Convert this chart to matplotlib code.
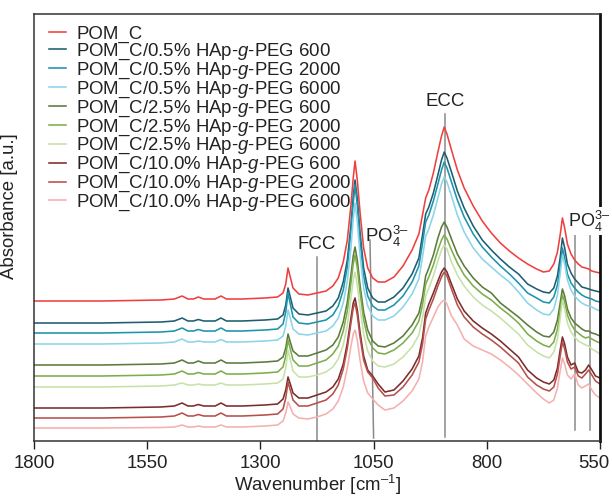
import numpy as np
import matplotlib
matplotlib.use("Agg")
import matplotlib.pyplot as plt
from matplotlib.transforms import ScaledTranslation

plt.rcParams['font.family'] = ['Liberation Sans', 'DejaVu Sans']
plt.rcParams['mathtext.fontset'] = 'custom'
plt.rcParams['mathtext.rm'] = 'Liberation Sans'
plt.rcParams['mathtext.it'] = 'Liberation Sans:italic'
plt.rcParams['mathtext.bf'] = 'Liberation Sans:bold'

# ---------------- data ----------------
wavenumber = [1800, 1650, 1520, 1490, 1473, 1460, 1448, 1437, 1425, 1400, 1387, 1375, 1340, 1290,
              1262, 1250, 1244, 1239, 1234, 1228, 1215, 1195, 1175, 1155, 1140, 1128, 1117, 1108,
              1100, 1095, 1091, 1086, 1080, 1072, 1063, 1052, 1040, 1025, 1005, 985, 965, 950,
              942, 935, 928, 918, 908, 900, 894, 888, 878, 865, 850, 830, 810, 790, 770, 750,
              730, 710, 690, 675, 662, 652, 644, 638, 633, 628, 622, 614, 606, 598, 590, 582,
              575, 568, 560, 550]

# readings are depths below the top reference level (a.u. x100); converted below
pom_c = [301, 301, 300, 299, 296, 299, 299, 297, 299, 299, 296, 299, 299, 298,
         297, 293, 284, 268, 277, 288, 294, 295, 293, 291, 286, 278, 262, 240,
         205, 178, 161, 180, 212, 248, 268, 278, 282, 282, 277, 266, 250, 234,
         215, 198, 190, 173, 152, 136, 127, 134, 150, 170, 188, 206, 221, 233, 243, 251,
         258, 264, 269, 272, 271, 264, 252, 235, 218, 228, 244, 254, 260, 264, 267, 268,
         269, 271, 272, 273]
peg600_05 = [323, 323, 322, 321, 318, 321, 321, 319.5, 321, 321, 318, 321, 321, 320,
             319, 315, 305, 288, 297, 308, 314, 315, 313, 311, 306, 298, 282, 260,
             225, 197, 180, 199, 232, 268, 288, 298, 302, 302, 297, 288, 274, 258,
             235, 214, 207, 193, 175, 160, 152, 158, 172, 191, 208, 226, 240, 250, 259, 267,
             274, 284, 289, 292, 293, 288, 276, 258, 238, 248, 264, 273, 279, 283, 287, 288,
             289, 290, 291, 292]
peg2000_05 = [333, 333, 332, 331, 328, 331, 331, 329.5, 331, 331, 328, 331, 331, 330,
              329, 324, 312, 293, 304, 317, 323, 324, 322, 320, 315, 306, 290, 267,
              231, 203, 185, 205, 240, 276, 296, 306, 310, 310, 305, 296, 282, 266,
              243, 222, 215, 201, 184, 170, 162, 168, 182, 200, 217, 234, 247, 257, 266, 274,
              283, 293, 298, 302, 303, 297, 285, 267, 248, 258, 274, 283, 288, 292, 295, 297,
              298, 299, 301, 302]
peg6000_05 = [344, 344, 343, 342, 339, 342, 342, 341, 342, 342, 339.5, 342, 342, 341,
              340, 336, 326, 310, 318, 329, 334, 335, 333, 331, 326, 318, 303, 281,
              248, 219, 203, 222, 255, 288, 306, 316, 320, 320, 316, 307, 294, 279,
              257, 236, 229, 215, 198, 184, 177, 182, 196, 215, 232, 248, 259, 267, 275, 282,
              292, 303, 310, 314, 315, 309, 295, 274, 255, 264, 280, 290, 296, 300, 303, 305,
              306, 307, 309, 311]
peg600_25 = [365, 365, 364, 363, 360, 363, 363, 361, 363, 363, 360, 363, 363, 362,
             361, 357, 348, 334, 342, 351, 356, 356, 353, 350, 345, 337, 322, 302,
             275, 256, 247, 260, 285, 312, 330, 341, 346, 347, 343, 336, 325, 313,
             297, 276, 268, 255, 238, 227, 222, 227, 239, 254, 266, 278, 287, 293, 303, 310,
             317, 325, 332, 336, 337, 332, 320, 303, 289, 296, 309, 318, 323, 326, 329, 331,
             331, 333, 334, 336]
peg2000_25 = [376, 376, 375, 374, 371, 374, 374, 372.5, 374, 374, 371, 374, 374, 373,
              372, 367, 356, 340, 349, 360, 366, 366, 363, 360, 354, 346, 331, 311,
              283, 264, 255, 268, 292, 320, 338, 348, 353, 354, 350, 343, 333, 321,
              305, 284, 277, 265, 250, 240, 235, 239, 250, 263, 275, 286, 294, 300, 308, 315,
              323, 334, 341, 345, 347, 342, 329, 311, 295, 302, 315, 324, 330, 333, 336, 338,
              337, 339, 341, 343]
peg6000_25 = [387, 387, 386, 385, 383, 385, 385, 384, 385, 385, 383, 385, 385, 384,
              383, 379, 368, 350, 360, 371, 377, 377, 375, 372, 367, 359, 345, 325,
              298, 280, 272, 285, 308, 334, 351, 361, 366, 367, 364, 357, 347, 335,
              318, 296, 288, 276, 261, 250, 245, 249, 262, 275, 286, 297, 305, 311, 318, 326,
              334, 345, 352, 356, 358, 352, 339, 319, 300, 309, 323, 332, 337, 341, 343, 345,
              346, 349, 351, 354]
peg600_10 = [408, 408, 407, 406, 403, 406, 406, 404.5, 406, 406, 403, 406, 406, 405,
             404, 399, 390, 377, 384, 393, 398, 398, 395, 392, 387, 379, 364, 343,
             318, 303, 298, 310, 332, 356, 370, 376, 384, 392, 390, 381, 369, 356,
             338, 313, 304, 293, 281, 272, 268, 272, 284, 299, 311, 321, 328, 334, 341, 349,
             357, 370, 378, 382, 384, 380, 368, 350, 337, 344, 357, 365, 363, 372, 373, 370,
             365, 370, 376, 378]
peg2000_10 = [418, 418, 417, 416, 413, 416, 416, 414.5, 416, 416, 413, 416, 416, 415,
              414, 409, 398, 382, 390, 400, 406, 406, 403, 400, 394, 385, 369, 348,
              323, 308, 303, 315, 337, 360, 372, 378, 388, 396, 395, 387, 375, 362,
              344, 319, 310, 299, 286, 277, 272, 276, 289, 305, 317, 327, 334, 340, 347, 355,
              363, 377, 385, 389, 391, 387, 374, 356, 342, 349, 362, 369, 367, 376, 378, 374,
              370, 375, 381, 384]
peg6000_10 = [428, 428, 427.5, 427, 425, 427, 427, 426, 427, 427, 425, 427, 427, 426,
              425, 421, 413, 402, 407, 414, 418, 419, 417, 414, 409, 401, 387, 368,
              346, 334, 330, 340, 360, 381, 393, 399, 405, 410, 408, 401, 391, 379,
              362, 336, 327, 317, 307, 302, 300, 304, 316, 325, 339, 346, 350, 354, 360, 367,
              375, 384, 393, 399, 403, 400, 388, 371, 358, 364, 375, 379, 374, 385, 388, 386,
              384, 390, 395, 398]

series = [pom_c, peg600_05, peg2000_05, peg6000_05, peg600_25, peg2000_25, peg6000_25,
          peg600_10, peg2000_10, peg6000_10]
labels = ["POM_C",
          "POM_C/0.5% HAp-$\\it{g}$-PEG 600",
          "POM_C/0.5% HAp-$\\it{g}$-PEG 2000",
          "POM_C/0.5% HAp-$\\it{g}$-PEG 6000",
          "POM_C/2.5% HAp-$\\it{g}$-PEG 600",
          "POM_C/2.5% HAp-$\\it{g}$-PEG 2000",
          "POM_C/2.5% HAp-$\\it{g}$-PEG 6000",
          "POM_C/10.0% HAp-$\\it{g}$-PEG 600",
          "POM_C/10.0% HAp-$\\it{g}$-PEG 2000",
          "POM_C/10.0% HAp-$\\it{g}$-PEG 6000"]
colors = ["#EF4040", "#1E5E70", "#1E93AC", "#8CD4E8", "#5B7B3C", "#7DAE4A", "#C6E2A8",
          "#7B2C2C", "#B5504B", "#F4B0B0"]

marker_text = ["FCC", "PO$_4^{3\u2013}$", "ECC", "PO$_4^{3\u2013}$"]
xticks = [1800, 1550, 1300, 1050, 800, 550]

REF = 441.0  # reference level of readings


def to_au(v):
    return (REF - np.asarray(v, dtype=float)) / 100.0


# ---------------- figure ----------------
W, H = 612, 497
fig = plt.figure(figsize=(W / 100, H / 100), dpi=100)
ax = fig.add_axes([34 / W, (H - 441) / H, 566 / W, 427 / H])

for y, lab, c in zip(series, labels, colors):
    ax.plot(wavenumber, to_au(y), color=c, lw=1.15, label=lab, solid_joinstyle='round')

ax.set_xlim(1800, 550)
ax.set_ylim(0, 4.27)

gray = "#8a8a8a"
ax.plot([1175, 1175], [0.0, to_au(257)], color=gray, lw=1.1, zorder=0.5)
ax.plot([1050, 1058], [0.03, to_au(240)], color=gray, lw=1.1, zorder=0.5)
ax.plot([893, 893], [0.04, to_au(114)], color=gray, lw=1.1, zorder=0.5)
ax.plot([606, 606], [0.11, to_au(235)], color=gray, lw=1.1, zorder=0.5)
ax.plot([573, 573], [0.11, to_au(235)], color=gray, lw=1.1, zorder=0.5)

fs = 13.4
ax.text(1175, to_au(244), marker_text[0], ha='center', va='center', fontsize=fs, color='#222')
ax.text(1068, to_au(236), marker_text[1], ha='left', va='center', fontsize=fs, color='#222')
ax.text(893, to_au(101), marker_text[2], ha='center', va='center', fontsize=fs, color='#222')
ax.text(621, to_au(221), marker_text[3], ha='left', va='center', fontsize=fs - 0.4, color='#222',
        bbox=dict(facecolor='white', edgecolor='none', pad=0.8), zorder=10, clip_on=False)

ax.set_xticks(xticks)
ax.set_xticklabels([str(t) for t in xticks], fontsize=fs, color='#222')
ax.set_yticks([])
ax.tick_params(axis='x', direction='out', length=6, width=1.0, pad=4, color='#222')
# the last tick label sits slightly left of its tick, inside the figure
last = ax.get_xticklabels()[-1]
last.set_transform(last.get_transform() + ScaledTranslation(-6 / 100, 0, fig.dpi_scale_trans))

for s in ['left', 'top', 'bottom']:
    ax.spines[s].set_linewidth(1.1)
    ax.spines[s].set_color('#333333')
ax.spines['right'].set_linewidth(2.0)
ax.spines['right'].set_color('#111111')

ax.set_xlabel("Wavenumber [cm$^{\u2013 1}$]", fontsize=fs, color='#222', labelpad=1)
ax.set_ylabel("Absorbance [a.u.]", fontsize=fs, color='#222')
ax.yaxis.set_label_coords(-0.028, 0.55)

leg = ax.legend(loc='upper left', bbox_to_anchor=(0.027, 0.972), frameon=False, fontsize=fs,
                handlelength=0.9, handletextpad=0.55, labelspacing=-0.08, borderpad=0,
                borderaxespad=0)
for t in leg.get_texts():
    t.set_color('#222')

fig.savefig("out.png", dpi=100)
